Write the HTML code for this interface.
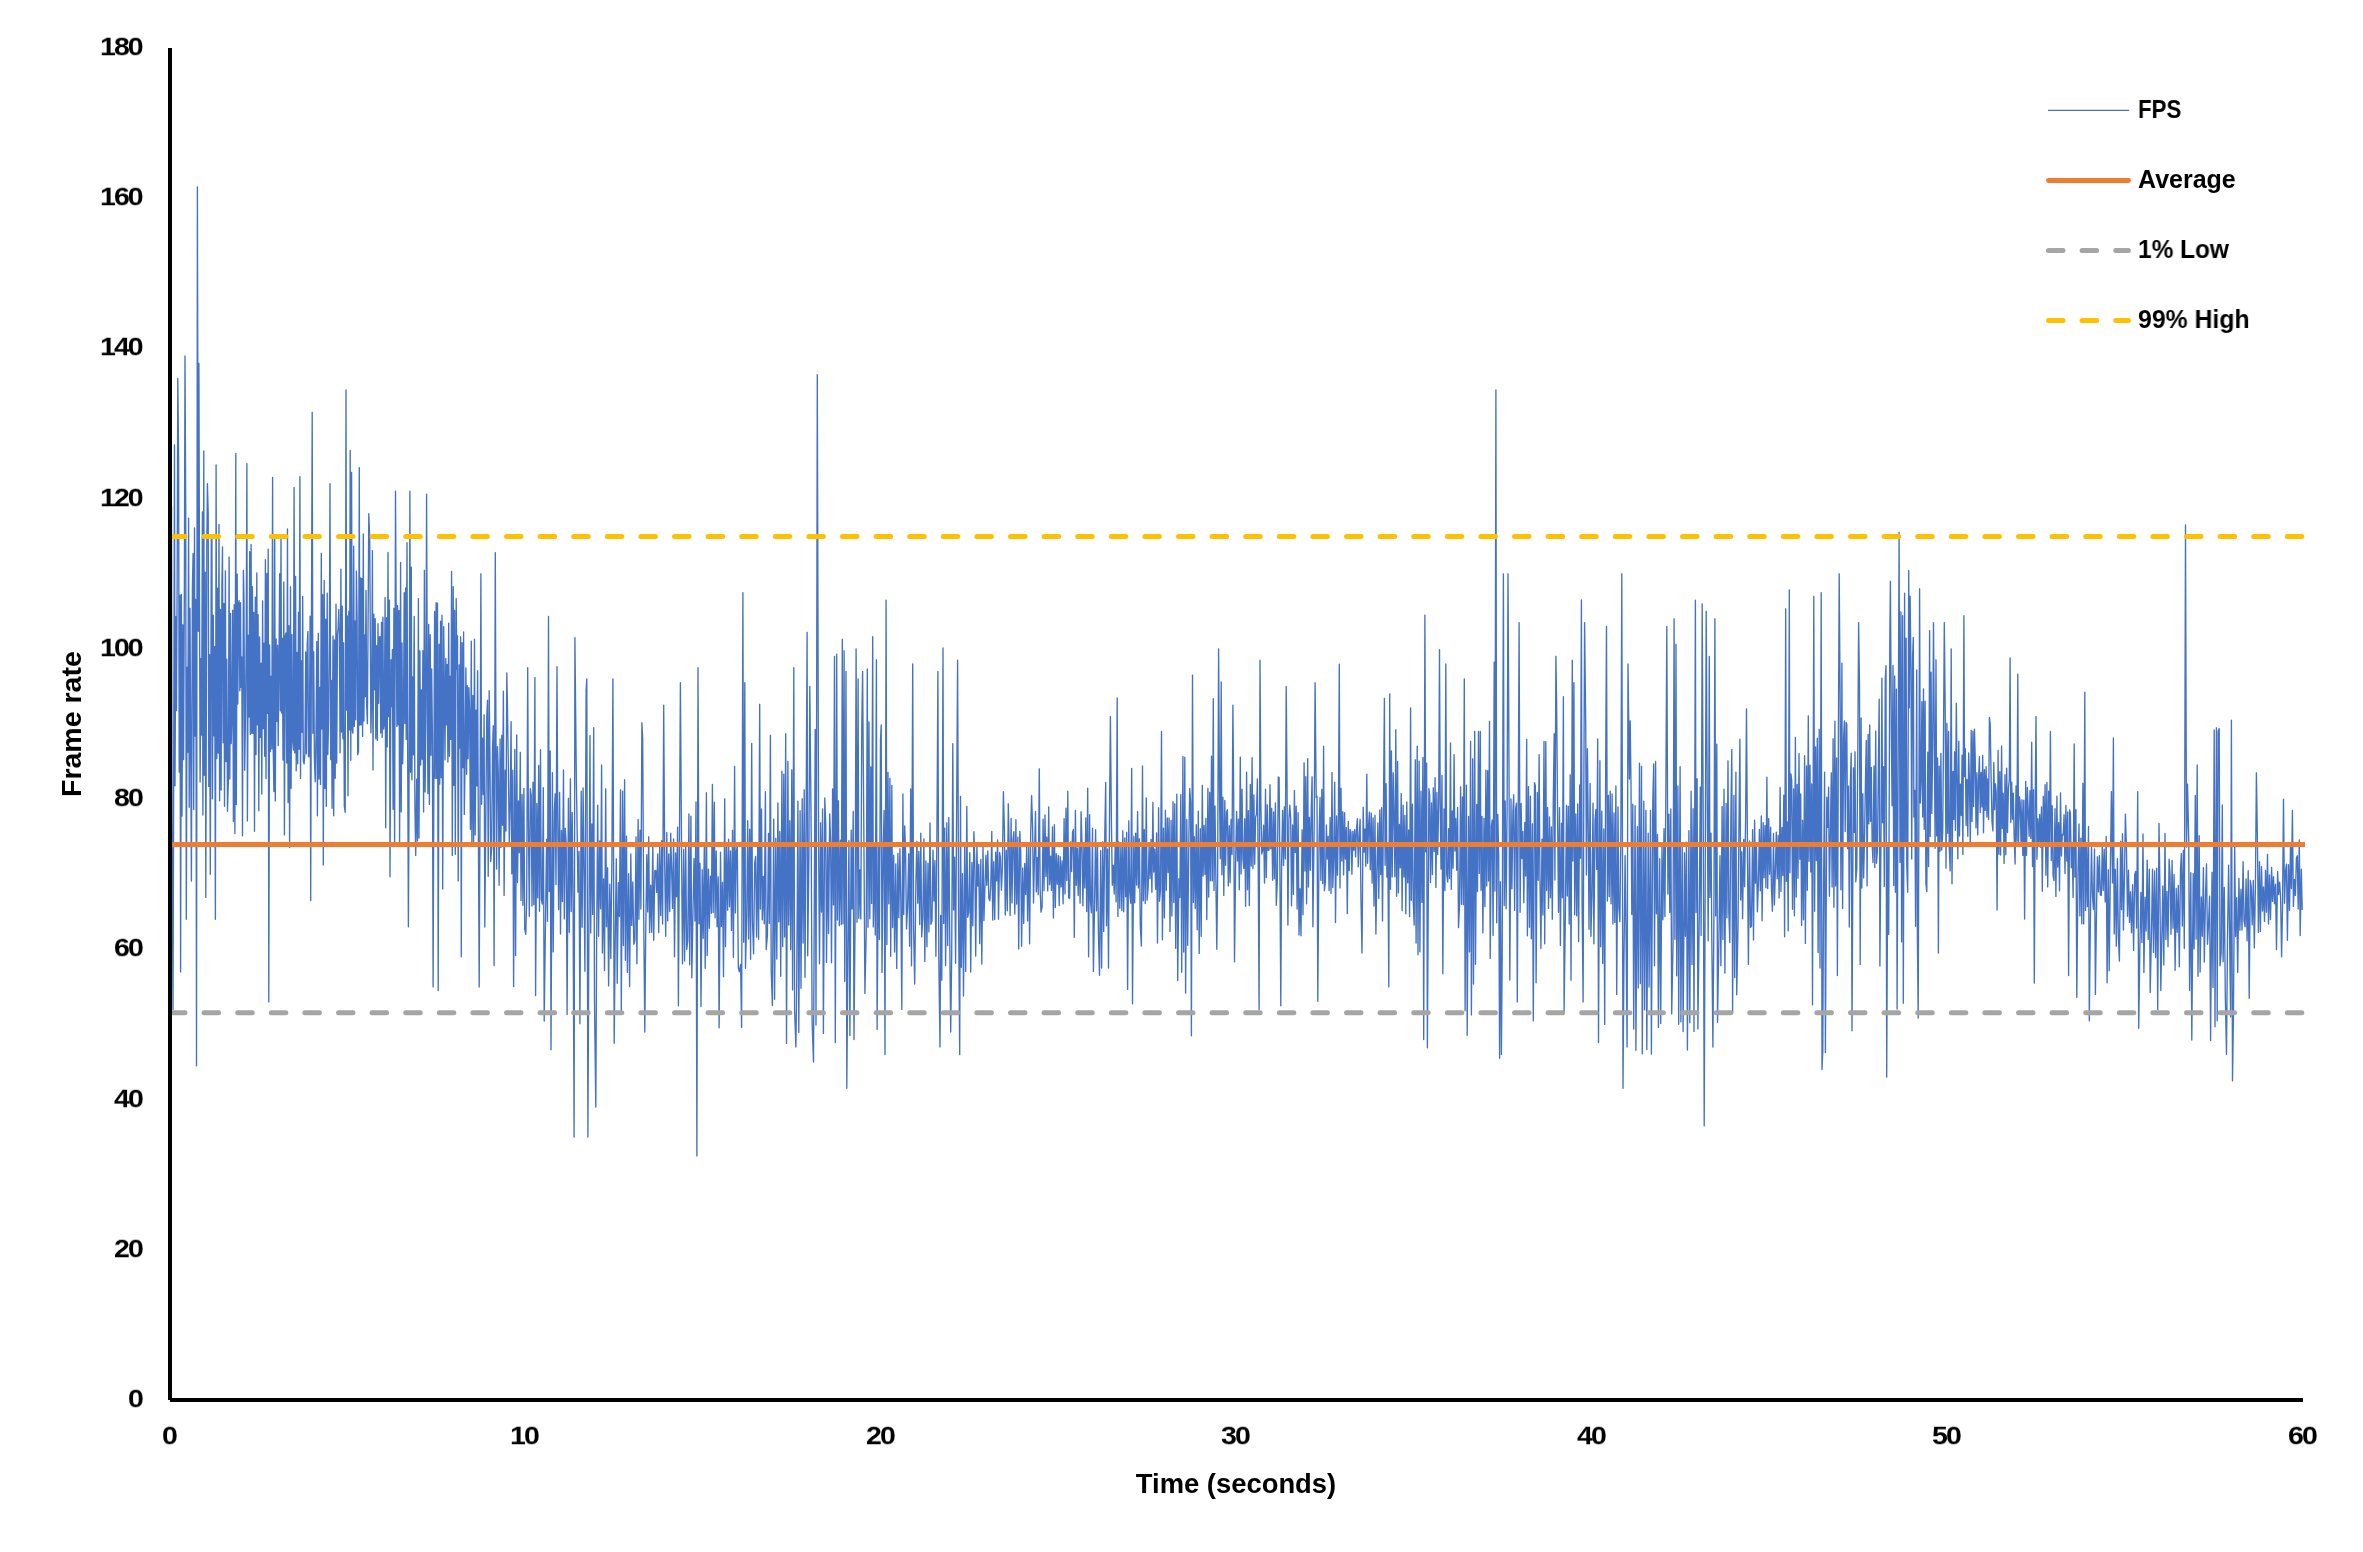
<!DOCTYPE html><html><head><meta charset="utf-8"><title>FPS chart</title><style>
html,body{margin:0;padding:0;background:#fff}
body{width:2363px;height:1552px;position:relative;overflow:hidden;font-family:"Liberation Sans",sans-serif;font-weight:700;color:#000}
svg{position:absolute;left:0;top:0}
.t{position:absolute;white-space:nowrap;line-height:1;transform-origin:0 0;will-change:transform}

</style></head><body>
<svg width="2363" height="1552" viewBox="0 0 2363 1552">
<polyline fill="none" stroke="#4472C4" stroke-width="1.35" stroke-linejoin="round" points="170.0,830.3 170.9,581.2 171.5,506.2 172.1,824.7 173.0,1009.4 173.6,811.4 174.5,445.0 175.0,785.7 175.8,616.6 176.5,710.5 177.2,570.6 177.8,378.5 178.6,458.4 179.2,772.0 180.0,595.2 180.6,971.9 181.4,594.5 182.0,816.1 182.9,624.8 183.6,759.5 184.4,579.1 185.0,356.0 185.7,504.3 186.3,919.3 187.1,667.1 187.8,752.2 188.6,518.2 189.2,807.3 190.0,608.3 190.7,745.8 191.4,881.1 192.4,587.4 193.1,553.4 193.7,809.5 194.5,527.9 195.1,736.1 195.9,599.4 196.5,1065.8 197.4,187.0 198.3,631.2 198.9,363.5 199.5,587.6 200.1,782.0 200.9,658.5 201.6,735.0 202.4,512.0 202.9,815.1 203.8,451.0 204.3,775.2 205.2,572.1 205.8,897.4 206.8,549.4 207.4,483.6 208.2,512.6 208.8,786.4 209.6,654.6 210.3,874.2 211.3,538.8 211.9,535.4 212.4,798.8 213.3,615.3 213.9,735.7 214.7,646.7 215.4,919.3 216.1,464.9 216.8,758.5 217.6,588.2 218.2,753.0 219.0,524.4 219.6,800.8 220.4,609.3 221.1,790.0 221.9,586.2 222.5,547.0 223.1,742.7 223.9,603.5 224.5,806.2 225.4,570.8 226.0,761.6 226.8,659.2 227.5,811.3 228.3,783.3 229.1,557.0 229.8,779.0 230.6,613.5 231.2,743.6 232.0,714.2 232.7,610.1 233.4,821.4 234.2,604.7 234.9,833.5 235.8,453.5 236.3,804.5 237.2,574.1 237.8,704.1 238.5,604.5 239.1,600.6 239.8,690.8 240.5,602.6 241.1,687.5 241.8,657.0 242.5,835.7 243.4,570.5 244.0,600.7 244.7,770.2 245.5,713.8 246.2,637.9 246.9,463.6 247.4,820.9 248.3,635.2 249.0,717.0 249.7,551.6 250.3,734.4 251.1,544.4 251.7,733.3 252.4,586.7 253.0,733.5 253.8,612.4 254.5,831.3 255.3,597.1 256.0,754.5 256.8,572.9 257.4,724.7 258.1,614.7 258.8,810.8 259.6,636.9 260.3,737.2 261.1,663.1 261.8,794.0 262.6,600.9 263.2,728.5 264.0,643.1 264.7,756.3 265.4,559.8 266.0,778.6 266.9,573.4 267.5,713.4 268.2,549.2 268.8,1001.9 269.6,645.0 270.3,751.6 271.1,676.2 271.8,748.9 272.6,477.4 273.1,740.2 273.9,791.5 274.7,535.0 275.3,801.0 276.1,639.0 276.8,721.2 277.6,645.1 278.2,745.5 279.0,658.6 279.7,573.7 280.3,710.9 281.0,535.1 281.6,713.0 282.4,638.3 283.0,760.1 283.8,582.0 284.4,834.9 285.3,636.2 286.0,633.0 286.7,763.0 287.5,529.0 288.1,802.6 288.9,625.6 289.6,847.5 290.5,586.8 291.1,788.3 291.9,634.6 292.6,740.4 293.4,750.0 294.1,487.4 294.8,752.9 295.6,576.5 296.2,770.7 297.0,652.5 297.7,763.7 298.5,612.3 299.1,749.2 299.9,476.6 300.5,778.4 301.3,660.8 302.0,732.2 302.7,596.5 303.3,760.4 304.1,763.9 304.9,753.1 305.7,652.0 306.4,753.8 307.2,645.0 307.9,631.4 308.5,756.6 309.3,756.6 310.1,616.1 310.7,900.5 311.5,608.7 312.2,412.3 312.9,733.3 313.7,651.7 314.4,757.9 315.2,781.7 316.0,734.5 316.8,641.4 317.4,815.8 318.3,633.3 319.0,779.1 319.8,687.5 320.5,784.5 321.3,553.3 321.9,729.1 322.7,594.6 323.3,865.0 324.2,580.5 324.9,788.5 325.7,619.1 326.3,806.2 327.2,593.1 327.8,754.5 328.6,721.7 329.4,634.6 330.0,483.6 330.7,759.5 331.4,680.5 332.1,808.2 333.0,635.9 333.7,815.7 334.5,640.0 335.2,778.3 336.0,604.1 336.7,763.0 337.5,633.7 338.1,628.5 338.8,609.5 339.4,635.5 340.1,752.7 340.9,569.2 341.5,732.0 342.2,606.2 342.9,738.8 343.6,642.8 344.3,805.9 345.2,812.3 346.0,389.8 346.6,710.0 347.3,615.9 348.0,795.8 348.8,611.3 349.5,729.9 350.2,450.5 350.8,760.3 351.6,472.4 352.2,729.3 352.9,733.1 353.7,546.1 354.3,726.4 355.0,621.0 355.7,719.7 356.4,571.2 357.1,617.1 357.7,754.7 358.5,751.3 359.3,467.6 359.8,725.3 360.6,577.9 361.2,724.8 361.9,578.5 362.6,736.4 363.3,534.0 363.9,721.1 364.7,634.9 365.3,696.5 366.0,590.5 366.7,706.5 367.4,723.6 368.1,617.8 368.8,513.7 369.7,538.0 370.3,631.2 370.9,732.7 371.7,699.9 372.4,550.6 373.0,770.0 373.8,614.2 374.5,689.6 375.2,618.6 375.8,738.7 376.6,645.7 377.3,740.4 378.0,623.7 378.7,703.3 379.4,637.0 380.1,636.6 380.7,732.9 381.5,622.3 382.2,737.5 382.9,617.1 383.6,729.1 384.3,723.6 385.1,597.5 385.7,827.7 386.6,617.6 387.2,746.9 388.0,552.5 388.6,716.6 389.4,600.2 390.0,876.8 391.0,659.7 391.6,706.7 392.4,649.4 393.1,809.2 393.9,608.3 394.6,845.9 395.5,491.2 396.2,617.4 396.9,726.5 397.6,605.6 398.2,724.7 399.0,610.5 399.6,843.8 400.6,562.4 401.2,811.9 402.0,643.0 402.7,763.8 403.5,717.2 404.2,592.6 404.9,723.6 405.6,587.9 406.2,739.5 407.0,542.7 407.6,734.2 408.4,926.8 409.0,807.2 409.9,491.2 410.5,772.2 411.3,567.2 411.9,779.7 412.7,676.9 413.4,754.9 414.2,616.4 414.9,805.2 415.7,855.4 416.7,779.1 417.5,840.9 418.4,598.6 419.0,838.0 419.9,650.8 420.6,765.0 421.4,689.9 422.1,759.3 422.9,650.7 423.6,811.9 424.4,570.3 425.1,791.9 425.9,712.2 426.6,494.2 427.2,665.0 427.9,793.6 428.7,624.4 429.4,804.4 430.2,634.6 430.9,755.3 431.7,669.0 432.4,736.6 433.1,986.9 433.8,790.2 434.6,611.4 435.2,778.3 436.1,602.7 436.7,778.4 437.5,603.1 438.2,990.6 439.1,644.2 439.7,784.0 440.6,621.1 441.2,777.7 442.0,615.2 442.7,889.0 443.7,626.6 444.3,679.6 445.0,759.8 445.8,658.4 446.5,724.9 447.2,664.4 447.9,762.1 448.7,623.1 449.4,756.2 450.2,676.3 450.9,739.4 451.6,571.5 452.3,855.5 453.2,586.7 453.8,785.3 454.6,610.5 455.3,854.2 456.2,598.6 456.8,669.2 457.5,635.8 458.2,880.9 459.2,665.0 459.9,748.0 460.6,636.8 461.3,956.8 462.1,642.7 462.8,767.6 463.6,632.0 464.3,814.4 465.1,758.7 465.9,667.9 466.6,774.2 467.4,685.6 468.1,758.8 468.9,687.6 469.6,710.9 470.4,829.3 471.3,641.2 471.9,845.9 472.9,695.4 473.6,844.4 474.5,639.1 475.2,834.9 476.1,710.1 476.8,785.9 477.6,670.7 478.3,816.8 479.2,986.9 480.1,787.7 480.9,573.8 481.6,804.3 482.5,738.1 483.3,794.6 484.1,714.8 484.8,927.1 485.9,807.0 486.8,716.0 487.5,700.3 488.2,876.3 489.2,690.8 489.9,751.3 490.7,861.5 491.6,849.0 492.6,747.1 493.3,725.7 494.1,965.6 495.3,552.6 495.8,697.3 496.6,869.1 497.5,746.7 498.3,773.5 499.1,885.3 500.1,738.9 500.9,847.6 501.8,735.2 502.5,825.2 503.4,691.2 504.1,895.4 505.2,770.1 506.0,831.1 506.8,672.9 507.5,709.0 508.5,777.0 509.3,843.9 510.2,803.8 511.1,721.6 511.8,873.8 512.8,770.2 513.6,986.6 514.8,749.5 515.6,955.6 516.7,734.9 517.5,882.6 518.5,801.0 519.3,852.7 520.3,752.3 521.0,900.6 522.1,794.5 522.9,905.3 523.9,788.5 524.7,929.0 525.8,934.3 526.7,897.6 527.7,667.7 528.4,818.3 529.3,916.2 530.3,788.6 531.2,795.3 532.0,906.0 533.0,782.3 533.8,904.5 534.9,677.5 535.6,995.6 536.8,803.4 537.7,897.7 538.7,765.5 539.5,911.3 540.5,749.7 541.3,899.0 542.3,904.1 543.3,787.6 544.2,1021.1 545.5,921.4 546.6,839.3 547.5,921.3 548.5,616.4 549.2,891.5 550.2,750.9 551.0,1049.7 552.4,772.6 553.2,951.9 554.3,811.3 555.2,793.8 556.0,884.5 557.0,666.7 557.7,815.1 558.6,909.5 559.6,792.4 560.5,934.1 561.5,830.5 562.4,901.6 563.5,769.9 564.3,918.9 565.3,828.2 566.2,843.9 567.1,1014.5 568.4,798.3 569.3,932.3 570.4,778.8 571.2,911.5 572.2,812.5 573.1,909.5 574.1,1137.1 574.9,637.6 576.3,776.4 577.1,827.7 578.0,892.2 579.0,851.5 579.9,1023.7 581.2,791.2 582.1,927.2 583.1,787.9 584.0,870.8 584.9,971.3 586.1,690.2 586.8,678.9 587.9,1137.1 588.8,946.7 590.0,735.5 590.7,933.1 591.8,824.0 592.7,914.4 593.7,727.6 594.5,1001.5 595.8,1107.1 596.6,945.7 597.7,805.2 598.6,936.3 599.7,840.9 600.6,908.8 601.6,765.0 602.4,952.9 603.6,878.8 604.5,970.6 605.7,788.8 606.5,926.8 607.6,867.7 608.6,985.9 609.8,884.1 610.8,958.6 611.9,859.8 612.9,678.9 614.2,1043.2 615.2,941.8 616.3,858.8 617.2,983.3 618.4,882.6 619.4,916.5 620.5,789.8 621.3,1013.2 622.6,791.1 623.4,945.6 624.6,779.8 625.4,960.3 626.5,836.1 627.4,972.4 628.6,873.6 629.6,986.5 630.8,853.9 631.7,925.4 632.8,881.9 633.8,944.3 634.9,940.4 636.0,837.0 636.9,963.8 638.1,819.5 638.9,919.2 640.0,830.2 640.9,909.0 641.9,722.8 642.7,739.0 643.7,915.4 644.8,1032.0 645.7,933.4 646.8,854.7 647.7,911.9 648.7,836.8 649.6,932.6 650.7,885.2 651.7,932.3 652.8,842.8 653.7,940.2 654.8,870.9 655.8,870.5 656.7,892.4 657.7,854.0 658.7,932.6 659.7,846.6 660.7,915.5 661.7,840.7 662.6,924.0 663.7,705.2 664.7,863.7 665.7,936.3 666.8,832.4 667.7,920.8 668.7,853.9 669.7,911.5 670.7,833.2 671.6,868.4 672.5,908.4 673.6,838.9 674.5,956.7 675.6,852.9 676.5,896.7 677.6,827.2 678.4,1005.7 679.5,832.9 680.4,682.7 681.6,856.9 682.5,963.8 683.7,849.4 684.6,961.1 685.7,845.5 686.7,949.4 687.8,940.7 688.9,813.9 689.7,964.7 690.9,816.2 691.8,977.8 693.0,910.0 694.0,858.4 695.0,921.1 696.0,801.9 696.9,1155.9 698.0,667.7 699.0,923.7 700.0,863.3 701.0,1006.5 702.2,869.6 703.2,938.3 704.3,846.1 705.2,968.3 706.4,792.7 707.2,955.5 708.4,869.1 709.3,928.3 710.4,876.2 711.4,913.2 712.4,784.4 713.2,912.4 714.3,802.1 715.1,917.7 716.2,851.0 717.1,926.8 718.2,876.8 719.1,1027.7 720.5,852.1 721.4,926.4 722.5,882.3 723.5,976.8 724.7,798.8 725.5,946.6 726.6,846.7 727.6,910.2 728.6,839.2 729.5,906.7 730.5,851.0 731.5,930.4 732.5,830.3 733.4,957.2 734.6,766.4 735.4,912.9 736.4,851.3 737.3,845.9 738.3,967.8 739.4,971.7 740.6,964.4 741.6,1027.6 742.9,592.6 743.7,942.3 744.8,682.7 745.5,968.2 746.7,916.4 747.7,820.7 748.6,939.0 749.7,829.3 750.6,959.2 751.7,743.4 752.5,921.7 753.6,953.8 754.7,862.8 755.6,856.5 756.6,937.1 757.7,844.5 758.6,939.3 759.7,704.3 760.4,909.1 761.5,809.0 762.3,919.9 763.4,876.5 764.3,923.8 765.4,791.7 766.2,949.5 767.4,935.6 768.5,833.5 769.3,923.5 770.4,735.3 771.2,970.8 772.4,1005.6 773.7,819.1 774.6,999.2 775.8,838.3 776.8,959.1 777.9,802.9 778.8,921.7 779.8,831.4 780.7,976.2 781.9,771.1 782.7,946.5 783.8,774.1 784.6,936.9 785.7,733.6 786.5,1043.4 787.9,761.3 788.7,925.0 789.8,820.6 790.7,949.6 791.8,769.8 792.6,989.9 793.8,667.7 794.6,1010.2 795.9,1047.0 796.7,985.5 797.9,801.1 798.8,1032.4 800.1,810.7 801.0,988.2 802.2,798.8 803.1,943.0 804.2,789.8 805.0,977.3 806.2,800.8 807.1,632.3 807.7,955.7 808.9,856.0 809.8,686.4 811.2,833.6 812.1,1021.2 813.5,1062.0 814.2,923.7 815.2,729.5 816.0,1024.9 817.3,374.7 818.6,844.8 819.5,963.7 820.6,822.8 821.5,912.1 822.6,808.9 823.4,1033.4 824.8,797.9 825.7,823.0 826.5,962.4 827.7,843.5 828.6,933.5 829.7,814.0 830.6,841.4 831.5,962.7 832.6,788.9 833.5,904.9 834.5,656.4 835.3,1042.5 836.7,654.2 837.4,920.0 838.4,800.8 839.3,925.7 840.4,840.2 841.3,924.5 842.3,639.3 843.0,923.7 844.1,650.8 844.7,981.3 846.0,671.4 846.8,1088.3 847.7,979.8 848.9,840.6 849.9,1035.6 851.2,830.2 852.1,908.9 853.2,811.3 854.0,1039.5 855.1,917.2 856.1,648.9 857.0,922.3 858.1,679.0 858.8,918.2 859.8,869.9 860.8,918.9 861.8,724.1 862.6,671.4 864.0,853.3 864.9,993.4 866.2,932.8 867.3,669.0 868.0,927.2 869.0,721.9 869.8,918.8 870.8,766.8 871.6,903.4 872.7,636.7 873.3,926.9 874.4,846.8 875.3,935.1 876.4,659.8 877.1,1029.5 878.5,844.7 879.4,939.6 880.5,740.0 881.2,725.0 882.0,972.4 883.2,848.3 884.1,810.4 885.0,1054.5 886.1,600.1 886.9,944.4 888.0,772.5 888.8,903.7 889.9,778.4 890.7,956.3 891.8,785.5 892.6,927.5 893.7,855.3 894.6,952.1 895.8,864.0 896.7,968.6 897.9,853.5 898.8,917.7 899.9,848.8 900.8,897.7 901.8,1009.4 902.9,794.0 903.7,914.5 904.7,826.0 905.6,852.7 906.5,929.0 907.6,905.6 908.7,853.8 909.6,946.3 910.7,788.9 911.5,965.8 912.7,663.9 913.6,930.0 914.7,984.0 915.9,880.9 916.9,841.3 917.8,903.2 918.8,851.4 919.7,924.5 920.8,833.2 921.7,936.9 922.8,918.5 923.9,838.9 924.8,961.5 925.9,861.0 926.9,946.8 928.0,863.2 928.9,931.9 930.0,823.0 930.9,924.2 932.0,920.9 933.0,850.1 933.9,901.1 934.9,860.6 935.9,956.3 937.0,821.2 937.9,671.4 938.8,957.2 940.0,1047.0 940.7,915.5 941.8,980.3 943.0,648.0 943.7,923.4 944.7,828.1 945.6,965.6 946.8,822.8 947.7,945.5 948.8,817.7 949.7,932.7 950.7,1032.0 951.7,955.6 952.8,743.7 953.6,910.1 954.6,857.1 955.6,963.3 956.7,799.0 957.6,660.2 958.6,916.4 959.7,1054.5 960.5,796.5 961.3,967.3 962.5,873.4 963.5,996.1 964.7,847.1 965.7,971.4 966.8,806.5 967.7,917.2 968.7,912.2 969.8,852.6 970.7,972.1 971.9,862.5 972.8,925.7 973.9,831.7 974.8,861.1 975.7,956.1 976.9,845.0 977.8,886.1 978.8,864.3 979.7,943.5 980.8,859.4 981.8,964.1 983.0,845.5 983.9,920.5 984.9,888.4 985.9,855.2 986.8,885.3 987.8,851.0 988.8,898.3 989.8,900.8 990.8,885.1 991.8,831.5 992.7,920.1 993.7,861.6 994.7,919.6 995.7,852.2 996.6,881.0 997.6,840.0 998.5,919.2 999.6,852.4 1000.5,857.7 1001.4,890.2 1002.4,867.0 1003.4,791.6 1004.4,830.8 1005.3,915.0 1006.3,850.2 1007.3,910.8 1008.3,803.8 1009.2,845.4 1010.1,915.6 1011.1,818.5 1012.0,902.9 1013.0,839.4 1013.9,831.7 1014.8,914.1 1015.9,819.7 1016.7,904.1 1017.8,837.1 1018.7,948.9 1019.8,831.4 1020.7,850.2 1021.6,946.2 1022.7,867.9 1023.7,923.4 1024.7,863.4 1025.7,894.5 1026.7,846.8 1027.6,920.9 1028.7,845.5 1029.6,943.7 1030.7,833.0 1031.6,795.4 1032.6,828.2 1033.5,903.1 1034.5,855.1 1035.5,811.4 1036.3,891.8 1037.3,857.4 1038.2,894.8 1039.3,768.8 1040.1,888.0 1041.0,912.1 1042.1,907.1 1043.1,819.2 1044.0,890.8 1045.0,814.9 1045.9,876.6 1046.8,837.0 1047.7,890.9 1048.7,807.0 1049.6,884.7 1050.6,856.1 1051.5,890.4 1052.5,826.9 1053.4,918.0 1054.4,824.7 1055.3,907.5 1056.3,853.7 1057.3,884.3 1058.3,855.4 1059.2,905.6 1060.2,856.6 1061.1,887.0 1062.1,860.8 1063.1,903.8 1064.1,818.7 1065.0,894.1 1066.0,808.2 1066.8,880.5 1067.8,791.2 1068.6,897.8 1069.6,898.3 1070.7,841.8 1071.6,871.5 1072.5,832.4 1073.4,829.4 1074.3,937.2 1075.4,810.5 1076.3,885.3 1077.3,847.9 1078.2,895.6 1079.2,843.9 1080.1,903.2 1081.1,811.8 1082.0,844.5 1082.9,905.8 1083.9,843.6 1084.8,887.9 1085.8,817.9 1086.7,911.6 1087.7,788.1 1088.6,956.8 1089.6,814.6 1090.4,900.3 1091.4,912.8 1092.5,828.2 1093.4,971.4 1094.6,900.5 1095.6,829.7 1096.5,910.9 1097.5,844.7 1098.4,932.4 1099.5,975.3 1100.7,850.7 1101.6,968.1 1102.8,841.7 1103.7,931.4 1104.8,833.7 1105.7,782.5 1106.5,925.8 1107.6,849.0 1108.5,968.1 1109.6,806.0 1110.4,716.5 1111.4,820.8 1112.3,885.3 1113.3,865.1 1114.2,894.0 1115.2,845.5 1116.1,901.9 1117.2,698.0 1117.9,916.4 1118.9,842.0 1119.8,908.3 1120.9,843.9 1121.8,910.6 1122.8,830.8 1123.7,911.8 1124.8,837.9 1125.7,896.7 1126.7,832.3 1127.6,989.4 1128.8,820.8 1129.7,891.4 1130.7,903.2 1131.7,768.4 1132.5,1003.7 1133.8,836.3 1134.7,902.8 1135.7,833.2 1136.6,885.1 1137.6,811.6 1138.4,887.9 1139.4,838.8 1140.3,925.9 1141.4,946.0 1142.5,766.0 1143.3,900.8 1144.3,829.6 1145.2,903.6 1146.3,797.9 1147.1,900.3 1148.1,888.1 1149.1,844.9 1150.0,878.7 1151.0,839.4 1151.9,892.2 1152.9,802.3 1153.7,872.1 1154.7,849.2 1155.6,889.3 1156.6,833.0 1157.5,943.0 1158.6,807.8 1159.5,901.3 1160.5,889.8 1161.5,731.5 1162.4,939.7 1163.5,828.2 1164.4,917.9 1165.4,810.3 1166.3,890.3 1167.3,817.9 1168.1,872.5 1169.1,817.9 1170.0,931.4 1171.1,820.4 1171.9,916.1 1173.0,801.7 1173.8,902.5 1174.8,803.8 1175.7,948.2 1176.8,794.1 1177.7,980.5 1178.9,878.8 1179.8,897.6 1180.8,794.6 1181.7,972.2 1182.9,756.5 1183.7,952.0 1184.8,757.3 1185.6,993.1 1186.8,819.4 1187.7,945.2 1188.8,843.4 1189.7,788.4 1190.6,801.6 1191.4,1035.7 1192.5,675.2 1193.4,902.4 1194.4,836.6 1195.3,908.5 1196.3,824.7 1197.2,929.8 1198.3,811.1 1199.2,953.4 1200.3,828.7 1201.2,936.2 1202.3,785.3 1203.1,876.1 1204.1,825.4 1205.0,874.4 1205.9,818.3 1206.8,919.5 1207.9,788.5 1208.7,897.0 1209.7,792.3 1210.5,880.8 1211.5,756.2 1212.3,880.9 1213.3,698.7 1214.0,890.4 1215.0,805.9 1215.8,873.5 1216.8,949.3 1217.6,880.8 1218.6,648.9 1219.5,792.5 1220.3,858.8 1221.2,682.0 1221.9,874.8 1222.9,797.3 1223.8,895.4 1224.8,800.4 1225.6,865.3 1226.6,812.1 1227.4,809.7 1228.3,886.1 1229.3,825.7 1230.1,882.6 1231.1,819.4 1232.0,854.6 1232.9,705.2 1233.7,796.9 1234.5,961.8 1235.7,858.3 1236.6,811.4 1237.5,861.0 1238.4,819.1 1239.3,889.7 1240.3,757.1 1241.1,874.0 1242.0,789.3 1242.9,858.4 1243.8,868.4 1244.7,818.8 1245.6,906.2 1246.6,772.1 1247.5,889.8 1248.4,810.7 1249.3,905.6 1250.3,784.5 1251.2,866.0 1252.1,757.7 1252.9,868.5 1253.9,795.0 1254.7,864.3 1255.6,817.3 1256.5,814.0 1257.4,778.9 1258.2,864.6 1259.1,1009.4 1260.0,660.2 1260.9,805.9 1261.8,853.9 1262.7,850.3 1263.6,825.1 1264.5,883.0 1265.5,789.3 1266.3,877.5 1267.3,804.8 1268.1,850.6 1269.1,849.7 1270.0,784.7 1270.8,848.8 1271.7,808.3 1272.6,880.2 1273.6,811.9 1274.4,878.8 1275.4,803.0 1276.3,905.3 1277.3,881.8 1278.3,776.9 1279.1,777.6 1279.9,869.5 1280.8,1005.7 1281.6,864.8 1282.6,810.5 1283.5,865.5 1284.4,806.8 1285.3,859.0 1286.2,686.4 1287.0,777.3 1287.9,925.1 1288.9,819.3 1289.8,805.2 1290.7,818.8 1291.5,905.8 1292.6,825.0 1293.4,894.6 1294.4,790.5 1295.3,852.6 1296.2,806.2 1297.1,909.1 1298.1,812.6 1299.0,934.9 1300.0,888.7 1301.0,935.8 1302.1,829.8 1303.0,914.8 1304.1,762.8 1304.9,871.0 1305.8,776.6 1306.6,903.8 1307.7,758.7 1308.4,887.1 1309.4,817.3 1310.3,870.3 1311.3,808.1 1312.1,776.8 1312.9,926.8 1314.2,823.1 1315.1,682.7 1316.2,797.6 1317.0,796.1 1317.8,1001.2 1319.1,836.4 1320.0,797.5 1320.9,880.5 1321.8,789.4 1322.7,883.5 1323.6,746.3 1324.4,890.7 1325.4,881.4 1326.4,825.0 1327.3,859.0 1328.2,836.3 1329.1,890.6 1330.1,817.4 1331.0,893.6 1332.0,772.4 1332.8,887.5 1333.8,855.8 1334.7,782.2 1335.5,922.6 1336.6,815.9 1337.5,875.2 1338.4,816.6 1339.3,664.2 1340.0,887.9 1341.0,788.3 1341.8,861.1 1342.8,811.6 1343.6,874.9 1344.6,812.7 1345.4,859.0 1346.4,827.7 1347.3,913.6 1348.3,821.4 1349.2,870.7 1350.1,829.4 1351.0,832.2 1351.9,874.2 1352.9,831.1 1353.8,850.3 1354.7,829.6 1355.6,856.9 1356.5,829.1 1357.4,818.7 1358.3,866.7 1359.2,837.8 1360.1,819.3 1361.0,901.3 1362.0,953.0 1363.2,807.3 1364.0,852.2 1365.0,829.0 1365.8,866.3 1366.8,774.1 1367.6,863.3 1368.6,824.5 1369.4,812.2 1370.3,869.8 1371.3,813.1 1372.1,883.2 1373.1,818.0 1374.0,906.0 1375.0,815.3 1375.9,934.1 1377.0,864.2 1377.9,822.9 1378.8,898.5 1379.8,810.0 1380.7,874.5 1381.6,807.6 1382.5,920.9 1383.5,801.4 1384.4,698.3 1385.1,865.3 1386.1,783.7 1386.9,877.1 1387.8,845.1 1388.8,986.9 1389.7,694.0 1390.5,889.2 1391.4,750.9 1392.2,876.9 1393.2,772.7 1394.0,814.2 1394.9,876.8 1395.8,729.7 1396.6,896.2 1397.6,761.4 1398.4,892.8 1399.4,824.4 1400.3,867.9 1401.2,793.4 1402.1,910.8 1403.1,805.1 1404.0,877.0 1404.9,815.4 1405.8,913.7 1406.8,802.0 1407.7,882.7 1408.7,829.9 1409.6,916.5 1410.6,708.0 1411.3,900.3 1412.4,804.2 1413.2,899.9 1414.2,925.1 1415.3,759.8 1416.1,943.0 1417.2,746.2 1418.0,954.7 1419.1,761.1 1419.9,951.8 1421.0,791.1 1421.9,902.4 1422.9,757.4 1423.7,1039.5 1424.9,615.1 1425.7,851.7 1426.6,763.1 1427.4,1047.7 1428.9,788.6 1429.7,795.5 1430.5,882.5 1431.5,802.9 1432.4,874.5 1433.3,787.8 1434.2,851.6 1435.1,777.7 1435.9,887.4 1436.9,792.5 1437.7,854.6 1438.7,803.4 1439.5,649.7 1440.2,798.9 1441.0,869.0 1442.0,775.5 1442.8,973.7 1444.0,809.0 1444.9,890.5 1445.8,663.9 1446.7,874.2 1447.7,882.0 1448.6,828.6 1449.5,878.4 1450.5,743.0 1451.3,889.2 1452.3,810.9 1453.1,868.2 1454.1,754.7 1454.9,851.1 1455.8,818.5 1456.7,870.3 1457.6,807.5 1458.5,927.6 1459.5,905.2 1460.6,786.8 1461.4,904.2 1462.4,796.9 1463.3,904.8 1464.3,678.9 1465.1,1010.8 1466.4,785.2 1467.2,1035.3 1468.6,816.5 1469.5,951.9 1470.6,741.3 1471.4,1014.9 1472.7,758.8 1473.5,984.1 1474.7,731.5 1475.5,964.2 1476.7,804.4 1477.5,891.6 1478.5,731.4 1479.3,873.4 1480.3,731.4 1481.0,890.3 1482.0,816.5 1482.9,932.9 1484.0,818.3 1484.9,906.5 1485.9,770.2 1486.7,885.9 1487.7,770.6 1488.5,881.0 1489.5,721.3 1490.2,958.4 1491.4,826.1 1492.2,819.9 1493.1,935.4 1494.2,662.2 1494.9,891.1 1495.9,389.8 1496.7,922.8 1497.8,814.5 1498.7,856.1 1499.6,1058.2 1500.4,881.8 1501.4,1054.5 1502.2,953.8 1503.4,573.8 1504.2,905.6 1505.2,801.0 1506.1,908.8 1507.1,809.4 1508.0,573.8 1509.0,767.5 1509.8,980.1 1511.0,798.9 1511.9,888.7 1512.9,811.5 1513.7,794.8 1514.6,910.4 1515.6,808.7 1516.5,803.2 1517.3,1001.9 1518.3,796.6 1519.1,622.6 1520.1,912.3 1521.1,803.4 1522.0,858.6 1522.9,831.4 1523.8,902.7 1524.8,822.5 1525.7,876.1 1526.7,739.4 1527.4,935.8 1528.5,786.7 1529.4,927.3 1530.4,796.1 1531.3,938.7 1532.4,823.8 1533.3,1020.7 1534.5,782.7 1535.3,785.7 1536.1,982.8 1537.3,792.4 1538.2,880.2 1539.1,754.6 1539.9,873.4 1540.9,948.5 1542.0,839.1 1542.9,914.9 1544.0,741.4 1544.7,943.7 1545.8,741.7 1546.6,890.5 1547.6,807.4 1548.5,908.4 1549.5,817.0 1550.4,897.8 1551.4,826.9 1552.3,919.2 1553.3,798.7 1554.2,733.7 1554.9,880.1 1555.9,656.3 1556.6,701.5 1557.6,814.6 1558.5,912.2 1559.5,807.6 1560.4,945.4 1561.5,823.2 1562.4,897.8 1563.4,696.6 1564.1,1011.2 1565.4,912.3 1566.5,805.5 1567.3,896.1 1568.3,806.3 1569.2,924.0 1570.2,774.8 1571.0,980.2 1572.3,660.2 1572.9,861.0 1573.9,682.7 1574.7,914.7 1575.8,814.0 1576.7,915.8 1577.7,803.9 1578.6,941.6 1579.7,785.0 1580.5,858.3 1581.4,600.0 1582.1,903.9 1583.1,1001.9 1583.8,795.4 1584.6,622.6 1585.7,723.4 1586.4,874.9 1587.4,748.7 1588.2,822.7 1589.0,929.2 1590.1,783.4 1590.9,936.2 1592.0,896.0 1593.0,803.1 1593.9,943.7 1595.0,820.6 1595.9,809.5 1596.7,869.4 1597.7,739.0 1598.5,1042.6 1599.9,760.7 1600.7,946.8 1601.8,811.1 1602.7,963.5 1603.8,828.9 1604.7,1024.4 1605.7,761.6 1606.5,626.4 1607.4,901.1 1608.4,795.4 1609.2,896.6 1610.2,791.1 1611.1,903.8 1612.1,793.9 1612.9,923.9 1614.0,812.9 1614.8,922.4 1615.9,786.0 1616.7,994.4 1618.0,807.0 1618.8,907.4 1619.9,921.7 1620.9,824.4 1621.8,573.8 1623.0,1088.3 1623.9,964.7 1625.1,855.7 1626.0,931.5 1627.1,1047.0 1628.0,663.9 1629.4,779.1 1630.2,720.8 1631.0,786.8 1631.8,914.4 1632.8,804.2 1633.7,1029.0 1635.1,805.6 1635.9,1050.2 1637.4,826.7 1638.2,988.0 1639.5,763.1 1640.3,983.6 1641.5,766.3 1642.3,1053.7 1643.8,801.3 1644.6,1009.7 1645.9,810.3 1646.8,1049.6 1648.2,833.2 1649.1,986.9 1650.5,810.4 1651.4,1054.0 1652.8,802.0 1653.7,764.0 1654.5,965.7 1655.6,761.5 1656.4,913.7 1657.5,834.4 1658.4,1027.4 1659.7,858.8 1660.7,1023.6 1662.0,846.3 1662.9,919.8 1664.0,828.6 1664.9,916.6 1665.9,785.8 1666.8,626.4 1667.9,894.0 1668.9,814.1 1669.8,912.4 1670.8,808.9 1671.7,1013.9 1673.0,945.7 1674.1,618.8 1674.9,939.3 1676.0,644.3 1676.7,975.8 1677.9,786.0 1678.7,1024.3 1680.1,766.7 1680.9,1021.7 1682.2,844.0 1683.1,1031.5 1684.5,852.8 1685.4,936.3 1686.5,842.2 1687.4,1050.1 1688.9,830.6 1689.8,1022.7 1691.1,791.2 1692.0,964.5 1693.1,808.6 1694.0,1031.4 1695.4,600.1 1696.0,912.6 1697.1,778.8 1697.9,1029.0 1699.3,910.9 1700.3,787.2 1701.1,935.4 1702.2,603.8 1703.3,837.4 1704.2,1125.8 1705.3,852.4 1706.2,611.3 1707.3,806.2 1708.2,940.7 1709.3,656.4 1709.9,897.4 1711.0,833.1 1711.8,938.4 1712.9,1047.0 1713.9,917.8 1714.9,618.8 1715.7,915.9 1716.8,744.1 1717.5,1022.5 1718.9,938.2 1720.0,855.7 1720.9,965.8 1722.1,806.4 1722.9,939.6 1724.0,789.1 1724.9,973.0 1726.1,803.4 1726.9,917.7 1728.0,760.8 1728.8,911.4 1729.8,942.5 1730.9,814.9 1731.8,749.4 1732.6,1013.8 1733.9,795.5 1734.7,977.6 1735.9,772.2 1736.7,994.7 1738.0,926.1 1739.0,823.1 1739.9,739.3 1740.7,899.9 1741.7,851.8 1742.6,918.8 1743.7,839.5 1744.6,886.7 1745.6,819.8 1746.5,709.0 1747.5,857.3 1748.4,964.4 1749.5,841.0 1750.5,927.4 1751.5,926.0 1752.6,829.6 1753.5,940.1 1754.6,820.1 1755.5,883.2 1756.4,843.7 1757.4,911.8 1758.4,882.5 1759.4,829.5 1760.3,890.7 1761.3,815.9 1762.1,920.7 1763.2,822.6 1764.1,877.7 1765.0,825.5 1765.9,887.7 1766.9,777.1 1767.7,888.5 1768.7,818.6 1769.6,874.3 1770.6,827.3 1771.4,886.3 1772.4,911.3 1773.5,833.5 1774.4,905.1 1775.4,869.4 1776.3,832.1 1777.2,878.8 1778.2,835.3 1779.1,898.0 1780.1,787.4 1781.0,891.4 1782.0,827.5 1782.8,875.6 1783.8,795.2 1784.6,936.8 1785.7,608.8 1786.4,881.2 1787.4,822.0 1788.2,930.7 1789.3,590.0 1789.9,872.7 1790.9,773.8 1791.7,780.3 1792.5,909.3 1793.6,788.8 1794.4,915.7 1795.4,737.3 1796.2,897.0 1797.2,784.4 1798.0,878.3 1799.0,753.5 1799.8,859.3 1800.7,794.0 1801.6,925.4 1802.6,820.3 1803.5,919.8 1804.6,755.7 1805.4,943.4 1806.5,766.0 1807.3,890.3 1808.3,715.9 1809.0,861.3 1810.0,765.2 1810.8,872.0 1811.7,783.9 1812.5,1004.7 1813.8,596.3 1814.6,911.2 1815.6,747.0 1816.4,860.6 1817.3,738.3 1818.1,952.5 1819.2,729.3 1820.0,968.0 1821.2,592.6 1822.0,1069.5 1822.8,1050.7 1823.6,882.8 1824.6,772.1 1825.4,1052.5 1826.8,797.2 1827.7,827.4 1828.6,787.2 1829.4,896.2 1830.4,831.2 1831.3,772.8 1832.1,887.1 1833.1,738.8 1833.9,907.2 1834.9,721.1 1835.6,885.9 1836.6,757.9 1837.4,975.6 1838.4,732.9 1839.2,573.8 1840.2,711.3 1840.9,889.7 1841.9,663.2 1842.6,908.6 1843.6,738.2 1844.4,720.9 1845.2,831.6 1846.1,722.5 1846.8,724.3 1847.6,848.5 1848.5,786.2 1849.3,927.0 1850.4,781.9 1851.2,753.1 1852.0,1030.8 1853.4,767.8 1854.2,832.4 1855.0,751.8 1855.8,881.8 1856.8,868.8 1857.8,752.7 1858.6,622.6 1859.5,686.5 1860.2,964.4 1861.1,718.0 1861.8,888.0 1862.8,793.7 1863.6,877.9 1864.6,835.0 1865.5,778.1 1866.3,740.4 1867.1,885.7 1868.1,734.5 1868.8,823.8 1869.7,725.0 1870.5,821.2 1871.3,767.5 1872.1,840.5 1873.0,862.6 1874.0,766.0 1874.8,867.5 1875.7,731.2 1876.5,863.2 1877.4,851.0 1878.4,764.8 1879.2,699.2 1879.9,966.0 1881.1,822.5 1881.9,678.2 1882.6,822.7 1883.5,766.7 1884.3,886.6 1885.3,678.9 1886.0,665.7 1886.7,1077.0 1887.8,846.4 1888.7,934.4 1889.8,642.5 1890.4,581.3 1891.4,741.0 1892.1,805.8 1893.0,665.5 1893.7,885.5 1894.7,675.9 1895.4,892.3 1896.4,689.1 1897.1,1009.0 1898.4,701.6 1899.1,532.5 1900.0,862.6 1900.9,611.8 1901.6,941.8 1902.6,615.7 1903.3,1003.3 1904.6,593.2 1905.2,846.5 1906.1,638.2 1906.8,866.3 1907.7,892.3 1908.7,570.5 1909.3,707.7 1910.1,596.3 1911.0,669.6 1911.7,858.9 1912.6,657.0 1913.3,637.5 1913.9,817.0 1914.8,790.3 1915.6,926.2 1916.7,670.0 1917.4,938.1 1918.2,1018.0 1919.6,588.8 1920.3,803.0 1921.1,781.2 1921.9,701.7 1922.7,817.1 1923.5,688.9 1924.2,829.2 1925.1,701.3 1925.9,883.4 1926.8,891.6 1927.8,752.2 1928.6,866.6 1929.6,630.7 1930.2,836.4 1931.1,672.2 1931.8,813.4 1932.7,745.3 1933.5,622.6 1934.3,731.4 1935.1,848.3 1936.0,659.8 1936.7,835.9 1937.6,757.9 1938.4,953.1 1939.2,766.2 1940.0,851.2 1940.9,753.5 1941.7,850.0 1942.7,832.5 1943.5,739.0 1944.3,622.6 1945.2,709.1 1946.0,868.3 1946.9,723.3 1947.7,833.3 1948.6,731.4 1949.3,848.9 1950.2,870.9 1951.2,648.9 1952.0,883.8 1953.0,771.5 1953.8,819.4 1954.6,751.8 1955.4,830.3 1956.3,703.3 1957.0,769.1 1957.8,858.7 1958.8,741.1 1959.5,836.0 1960.4,784.1 1961.3,815.6 1962.1,755.1 1962.9,854.6 1963.9,615.6 1964.5,776.6 1965.3,748.7 1966.1,825.5 1967.0,779.4 1967.8,836.3 1968.7,752.9 1969.5,783.0 1970.3,846.1 1971.2,730.3 1972.0,821.5 1972.9,731.2 1973.6,806.6 1974.5,729.2 1975.2,756.4 1976.0,827.8 1976.9,772.7 1977.7,834.9 1978.6,779.3 1979.4,756.6 1980.2,812.5 1981.1,772.4 1981.9,807.1 1982.7,755.5 1983.5,832.7 1984.4,769.7 1985.2,810.4 1986.1,766.7 1986.9,817.0 1987.8,778.8 1988.6,819.5 1989.4,717.4 1990.2,724.0 1991.2,781.5 1992.0,821.4 1992.9,830.9 1993.8,762.5 1994.6,809.7 1995.4,783.8 1996.2,792.0 1997.1,909.9 1998.1,750.5 1998.9,854.3 1999.8,771.6 2000.6,855.1 2001.6,745.9 2002.3,828.6 2003.2,793.1 2004.1,863.4 2005.0,774.7 2005.8,854.8 2006.7,768.2 2007.5,832.5 2008.4,788.2 2009.3,779.7 2010.1,658.0 2010.8,822.5 2011.7,782.1 2012.5,819.3 2013.3,793.1 2014.2,837.7 2015.1,864.1 2016.0,786.0 2016.9,841.3 2017.8,674.1 2018.5,843.9 2019.4,796.6 2020.2,801.8 2021.1,846.1 2022.0,799.8 2022.8,855.4 2023.8,800.1 2024.6,919.0 2025.7,781.4 2026.5,855.4 2027.4,787.4 2028.2,809.7 2029.1,836.3 2030.0,790.6 2030.8,838.4 2031.7,742.3 2032.5,866.5 2033.5,789.6 2034.3,983.1 2035.2,805.3 2036.0,716.5 2036.9,859.2 2037.9,818.8 2038.8,844.9 2039.7,814.5 2040.5,847.2 2041.5,807.0 2042.3,891.3 2043.3,796.3 2044.1,846.5 2045.1,784.7 2045.9,875.3 2046.9,782.4 2047.7,886.9 2048.7,791.2 2049.5,843.1 2050.4,731.5 2051.3,860.5 2052.2,805.7 2053.1,875.3 2054.0,880.6 2055.0,808.7 2055.9,896.4 2056.9,796.1 2057.7,867.0 2058.7,822.6 2059.5,890.9 2060.5,792.8 2061.4,856.0 2062.3,834.2 2063.2,834.8 2064.1,814.8 2065.0,873.6 2065.9,805.4 2066.8,861.1 2067.7,812.0 2068.6,975.6 2069.6,809.9 2070.4,813.5 2071.3,867.8 2072.2,842.7 2073.1,897.4 2074.2,743.9 2074.9,877.1 2075.9,809.6 2076.8,997.3 2078.0,872.0 2079.0,824.0 2079.9,915.9 2080.9,838.1 2081.8,923.8 2082.9,783.3 2083.7,923.9 2084.8,692.2 2085.5,910.4 2086.5,844.7 2087.4,906.7 2088.5,826.4 2089.3,1020.7 2090.5,908.9 2091.5,844.4 2092.4,894.5 2093.4,909.3 2094.5,849.0 2095.4,994.4 2096.4,916.7 2097.4,856.8 2098.4,891.9 2099.4,855.6 2100.3,894.9 2101.3,895.4 2102.3,845.9 2103.2,890.5 2104.2,849.1 2105.2,902.1 2106.2,836.5 2107.1,982.7 2108.3,869.7 2109.2,970.7 2110.4,865.1 2111.4,791.6 2112.5,882.9 2113.4,737.9 2114.2,933.9 2115.3,869.3 2116.3,946.3 2117.4,858.6 2118.3,934.3 2119.4,961.0 2120.6,841.3 2121.5,909.7 2122.5,833.8 2123.4,930.1 2124.5,874.7 2125.4,814.1 2126.5,850.3 2127.5,916.3 2128.5,870.2 2129.5,922.4 2130.5,891.8 2131.5,932.7 2132.6,884.6 2133.6,950.4 2134.7,874.8 2135.7,871.4 2136.6,928.1 2137.7,791.6 2138.7,1028.2 2139.8,951.4 2140.9,892.4 2141.9,942.4 2143.0,833.9 2143.9,972.5 2145.1,897.2 2146.1,931.1 2147.2,860.2 2148.2,939.5 2149.3,869.1 2150.2,992.5 2151.5,932.0 2152.5,869.2 2153.5,952.4 2154.6,871.0 2155.6,957.5 2156.7,868.3 2157.7,1009.4 2159.0,823.4 2159.8,878.9 2160.8,990.6 2161.7,945.5 2162.8,886.0 2163.8,964.9 2165.0,833.4 2165.9,939.5 2167.0,891.5 2168.0,946.7 2169.1,859.2 2170.0,874.1 2171.0,934.2 2172.1,860.5 2173.0,928.3 2174.1,874.4 2175.1,970.2 2176.2,888.4 2177.2,932.3 2178.3,885.5 2179.3,966.8 2180.5,869.9 2181.4,853.4 2182.3,926.1 2183.4,850.4 2184.3,948.6 2185.5,525.0 2186.5,847.1 2187.5,784.1 2188.7,838.7 2189.6,990.6 2190.8,872.7 2191.8,1040.0 2193.2,873.4 2194.1,948.9 2195.3,795.5 2196.1,939.0 2197.2,765.0 2198.0,976.2 2199.2,835.6 2200.1,971.9 2201.3,896.9 2202.3,936.2 2203.4,867.6 2204.3,962.0 2205.5,897.0 2206.5,863.8 2207.5,944.2 2208.6,922.6 2209.6,896.1 2210.6,1040.6 2212.0,872.3 2213.0,987.4 2214.2,729.9 2215.0,1026.8 2216.4,727.8 2217.2,1020.7 2218.1,731.5 2219.2,728.6 2220.0,965.7 2221.2,952.9 2222.3,805.0 2223.1,961.7 2224.3,887.4 2225.3,995.7 2226.5,1054.5 2227.5,938.6 2228.6,865.2 2229.5,927.0 2230.6,1016.9 2231.4,720.2 2232.5,1080.8 2233.4,1019.2 2234.7,847.0 2235.6,936.6 2236.7,897.7 2237.7,972.5 2238.9,878.4 2239.9,930.2 2241.0,889.2 2242.0,930.1 2243.1,861.6 2244.0,920.4 2245.1,926.7 2246.1,878.9 2247.1,940.8 2248.2,870.7 2249.2,998.2 2250.3,880.3 2251.2,886.3 2252.2,924.8 2253.3,880.5 2254.3,947.9 2255.4,887.2 2256.4,772.8 2257.5,845.7 2258.4,932.5 2259.5,861.6 2260.4,931.4 2261.5,866.6 2262.5,911.0 2263.5,887.0 2264.5,921.4 2265.5,870.4 2266.5,912.2 2267.5,854.3 2268.5,924.0 2269.5,875.0 2270.5,919.6 2271.6,867.4 2272.5,901.4 2273.5,876.7 2274.5,903.6 2275.5,884.2 2276.5,949.6 2277.6,871.5 2278.6,894.5 2279.6,882.1 2280.6,897.8 2281.6,956.8 2282.5,907.9 2283.5,799.1 2284.5,903.2 2285.5,871.3 2286.5,864.2 2287.4,940.3 2288.5,864.6 2289.5,910.2 2290.5,845.0 2291.4,888.5 2292.4,810.4 2293.4,906.4 2294.4,879.5 2295.4,895.4 2296.4,858.0 2297.3,855.8 2298.2,908.9 2299.3,840.0 2300.2,935.6 2301.3,869.1 2302.2,909.9"/>
<line x1="171" y1="844.45" x2="2305" y2="844.45" stroke="#ED7D31" stroke-width="4.9"/>
<line x1="170.5" y1="1012.8" x2="2301.8" y2="1012.8" stroke="#A5A5A5" stroke-width="5" stroke-linecap="round" stroke-dasharray="14.5 19.1"/>
<line x1="170.5" y1="536.5" x2="2301.8" y2="536.5" stroke="#FFC000" stroke-width="5" stroke-linecap="round" stroke-dasharray="14.5 19.1"/>
<rect x="168" y="48" width="4" height="1352" fill="#000"/>
<rect x="170" y="1398" width="2133" height="4" fill="#000"/>
<line x1="2048" y1="110.4" x2="2129.2" y2="110.4" stroke="#4472C4" stroke-width="1.35"/>
<line x1="2048.5" y1="180.5" x2="2128.5" y2="180.5" stroke="#ED7D31" stroke-width="4.9" stroke-linecap="round"/>
<line x1="2048.5" y1="250.5" x2="2128.4" y2="250.5" stroke="#A5A5A5" stroke-width="5" stroke-linecap="round" stroke-dasharray="14.5 19.1"/>
<line x1="2048.5" y1="320.5" x2="2128.4" y2="320.5" stroke="#FFC000" stroke-width="5" stroke-linecap="round" stroke-dasharray="14.5 19.1"/>
</svg>
<div class="t" style="right:2221.15px;top:1383.9px;font-size:28.5px;letter-spacing:-1.95px;transform:scaleY(0.925);transform-origin:100% 50%">0</div>
<div class="t" style="right:2221.15px;top:1233.7px;font-size:28.5px;letter-spacing:-1.95px;transform:scaleY(0.925);transform-origin:100% 50%">20</div>
<div class="t" style="right:2221.15px;top:1083.5px;font-size:28.5px;letter-spacing:-1.95px;transform:scaleY(0.925);transform-origin:100% 50%">40</div>
<div class="t" style="right:2221.15px;top:933.3px;font-size:28.5px;letter-spacing:-1.95px;transform:scaleY(0.925);transform-origin:100% 50%">60</div>
<div class="t" style="right:2221.15px;top:783.1px;font-size:28.5px;letter-spacing:-1.95px;transform:scaleY(0.925);transform-origin:100% 50%">80</div>
<div class="t" style="right:2221.15px;top:632.8px;font-size:28.5px;letter-spacing:-1.95px;transform:scaleY(0.925);transform-origin:100% 50%">100</div>
<div class="t" style="right:2221.15px;top:482.6px;font-size:28.5px;letter-spacing:-1.95px;transform:scaleY(0.925);transform-origin:100% 50%">120</div>
<div class="t" style="right:2221.15px;top:332.4px;font-size:28.5px;letter-spacing:-1.95px;transform:scaleY(0.925);transform-origin:100% 50%">140</div>
<div class="t" style="right:2221.15px;top:182.2px;font-size:28.5px;letter-spacing:-1.95px;transform:scaleY(0.925);transform-origin:100% 50%">160</div>
<div class="t" style="right:2221.15px;top:32.0px;font-size:28.5px;letter-spacing:-1.95px;transform:scaleY(0.925);transform-origin:100% 50%">180</div>
<div class="t" style="left:118.88px;width:100px;text-align:center;top:1420.8px;font-size:28.5px;letter-spacing:-1.95px;transform:scaleY(0.925);transform-origin:50% 50%">0</div>
<div class="t" style="left:474.38px;width:100px;text-align:center;top:1420.8px;font-size:28.5px;letter-spacing:-1.95px;transform:scaleY(0.925);transform-origin:50% 50%">10</div>
<div class="t" style="left:829.88px;width:100px;text-align:center;top:1420.8px;font-size:28.5px;letter-spacing:-1.95px;transform:scaleY(0.925);transform-origin:50% 50%">20</div>
<div class="t" style="left:1185.37px;width:100px;text-align:center;top:1420.8px;font-size:28.5px;letter-spacing:-1.95px;transform:scaleY(0.925);transform-origin:50% 50%">30</div>
<div class="t" style="left:1540.87px;width:100px;text-align:center;top:1420.8px;font-size:28.5px;letter-spacing:-1.95px;transform:scaleY(0.925);transform-origin:50% 50%">40</div>
<div class="t" style="left:1896.37px;width:100px;text-align:center;top:1420.8px;font-size:28.5px;letter-spacing:-1.95px;transform:scaleY(0.925);transform-origin:50% 50%">50</div>
<div class="t" style="left:2251.88px;width:100px;text-align:center;top:1420.8px;font-size:28.5px;letter-spacing:-1.95px;transform:scaleY(0.925);transform-origin:50% 50%">60</div>
<div class="t" id="xt" style="left:1036.2px;width:400px;text-align:center;top:1470px;font-size:27.4px">Time (seconds)</div>
<div class="t" id="yt" style="left:57px;top:797.3px;font-size:28.5px;transform:rotate(-90deg)">Frame rate</div>
<div class="t lg" style="left:2137.5px;top:96.8px;font-size:25px;transform:scaleX(0.89)">FPS</div>
<div class="t lg" style="left:2137.5px;top:166.9px;font-size:25px;transform:scaleX(1.0)">Average</div>
<div class="t lg" style="left:2137.5px;top:236.9px;font-size:25px;transform:scaleX(0.978)">1% Low</div>
<div class="t lg" style="left:2137.5px;top:306.9px;font-size:25px;transform:scaleX(0.992)">99% High</div>
</body></html>
